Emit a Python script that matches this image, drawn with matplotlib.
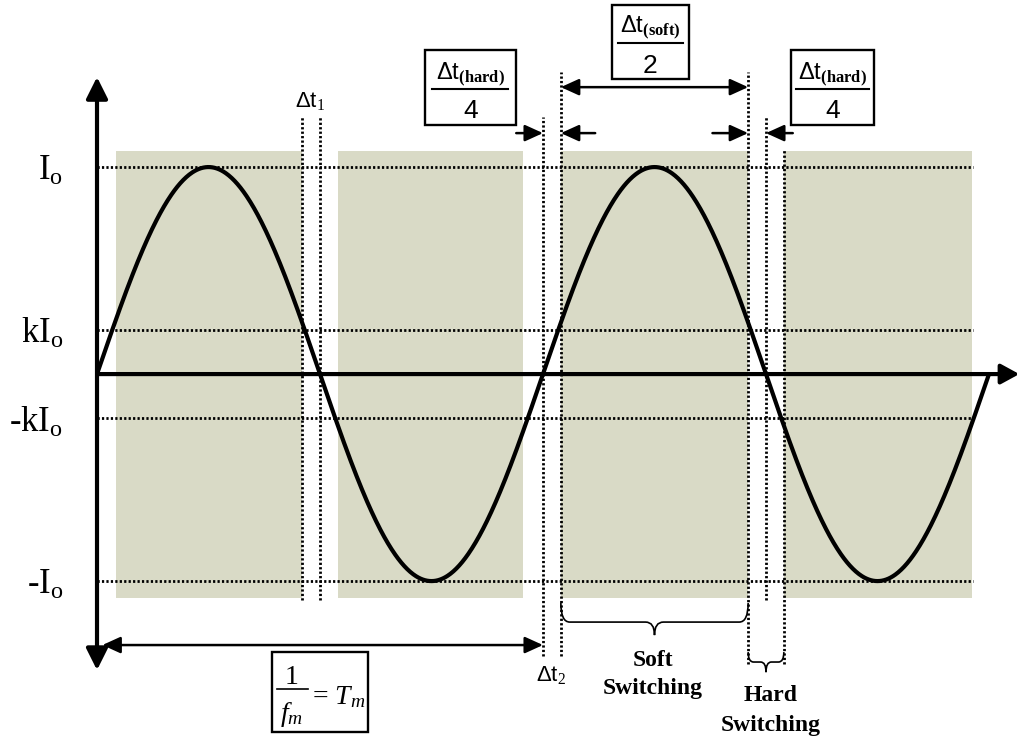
import numpy as np
import matplotlib
matplotlib.use("Agg")
import matplotlib.pyplot as plt
from matplotlib.patches import Rectangle, PathPatch
from matplotlib.path import Path

plt.rcParams['font.family'] = ['Liberation Serif', 'DejaVu Serif']
plt.rcParams['mathtext.fontset'] = 'custom'
plt.rcParams['mathtext.rm'] = 'Liberation Serif'
plt.rcParams['mathtext.it'] = 'Liberation Serif:italic'
plt.rcParams['mathtext.bf'] = 'Liberation Serif:bold'
plt.rcParams['mathtext.sf'] = 'Liberation Sans'

# waveform, normalised: time in T_m, current in I_o
T_M = 1.0
I_O = 1.0
K = 0.213
N_CYCLES = 2

level_vals = [I_O, K * I_O, -K * I_O, -I_O]
level_labels = ['I$_\\mathrm{o}$', 'kI$_\\mathrm{o}$', '-kI$_\\mathrm{o}$', '-I$_\\mathrm{o}$']

# shaded windows (units of T_m)
shade_start = [0.043, 0.540, 1.040, 1.540]
shade_end = [0.460, 0.955, 1.460, 1.962]

# switching instants marked by dotted verticals
mark_t = [0.46, 0.50, 1.00, 1.04, 1.46, 1.50, 1.54]
mark_top = [1.24, 1.24, 1.24, 1.46, 1.46, 1.24, 1.08]
mark_bot = [-1.09, -1.09, -1.36, -1.36, -1.40, -1.09, -1.40]

SHADE = '#d9dac6'

fig = plt.figure(figsize=(10.22, 7.38), dpi=100)
ax = fig.add_axes([0, 0, 1, 1])
ax.set_xlim(-0.2175, 2.074)
ax.set_ylim(-1.758, 1.807)
ax.axis('off')


def arrow(x0, y0, x1, y1, lw, hl, hw, both=False):
    style = f"{'<|-|>' if both else '-|>'},head_length={hl},head_width={hw}"
    ax.annotate('', xy=(x1, y1), xytext=(x0, y0), zorder=5,
                arrowprops=dict(arrowstyle=style, lw=lw, color='black',
                                shrinkA=0, shrinkB=0, mutation_scale=1))


def brace(x0, x1, ytop, yh, ytip, rx, lw=1.2):
    xm = (x0 + x1) / 2
    verts = [(x0, ytop), (x0, yh), (x0 + rx, yh), (xm - rx, yh), (xm, yh), (xm, ytip),
             (xm, yh), (xm + rx, yh), (x1 - rx, yh), (x1, yh), (x1, ytop)]
    codes = [Path.MOVETO, Path.CURVE3, Path.CURVE3, Path.LINETO, Path.CURVE3, Path.CURVE3,
             Path.CURVE3, Path.CURVE3, Path.LINETO, Path.CURVE3, Path.CURVE3]
    ax.add_patch(PathPatch(Path(verts, codes), fill=False, lw=lw, color='black', zorder=4))


def frac_box(x0, x1, y0, y1, xc, top_txt, bot_txt, y_top, y_line, y_bot, half):
    ax.add_patch(Rectangle((x0, y0), x1 - x0, y1 - y0, fill=False, lw=1.7,
                           edgecolor='black', zorder=5))
    ax.text(xc, y_top, top_txt, ha='center', va='baseline', fontsize=17,
            family=['Liberation Sans', 'DejaVu Sans'], zorder=6)
    ax.plot([xc - half, xc + half], [y_line, y_line], color='black', lw=1.5, zorder=6)
    ax.text(xc, y_bot, bot_txt, ha='center', va='baseline', fontsize=19,
            family=['Liberation Sans', 'DejaVu Sans'], zorder=6)


# shaded windows
for s, e in zip(shade_start, shade_end):
    ax.axvspan(s, e, ymin=(-1.082 + 1.758) / 3.565, ymax=(1.077 + 1.758) / 3.565,
               color=SHADE, lw=0, zorder=1)

# dotted level lines and vertical markers
dots = dict(color='black', lw=2.0, linestyle=(0, (0.8, 0.8)), zorder=2)
ax.hlines(level_vals, 0, shade_end[-1] + 0.003, **dots)
for t, y0, y1 in zip(mark_t, mark_bot, mark_top):
    ax.vlines(t, y0, y1, **dots)

# sinusoid i(t) = I_o sin(2 pi t / T_m)
t = np.linspace(0, N_CYCLES * T_M, 1200)
ax.plot(t, I_O * np.sin(2 * np.pi * t / T_M), color='black', lw=3.0,
        solid_capstyle='round', zorder=3)

# axes
arrow(0, -1.43, 0, 1.435, lw=3.0, hl=13, hw=6.5, both=True)
arrow(0, 0, 2.068, 0, lw=3.0, hl=11, hw=6.0)

# level labels
for v, lab in zip(level_vals, level_labels):
    ax.text(-0.076, v - 0.064, lab, ha='right', va='baseline', fontsize=25)

# period arrow and box
arrow(0.012, -1.309, 1.0, -1.309, lw=1.8, hl=11, hw=5, both=True)
ax.add_patch(Rectangle((0.392, -1.729), 0.216, 0.386, fill=False, lw=1.7,
                       edgecolor='black', zorder=5))
ax.text(0.437, -1.497, '1', ha='center', va='baseline', fontsize=20)
ax.plot([0.404, 0.473], [-1.522, -1.522], color='black', lw=1.2)
ax.text(0.437, -1.675, '$\\mathit{f}_\\mathit{m}$', ha='center', va='baseline', fontsize=20)
ax.text(0.482, -1.592, '= $\\mathit{T}_\\mathit{m}$', ha='left', va='baseline', fontsize=20)

# delta t labels
sans = ['Liberation Sans', 'DejaVu Sans']
ax.text(0.478, 1.29, 'Δt$_\\mathrm{1}$', ha='center', va='baseline', fontsize=16, family=sans)
ax.text(1.018, -1.482, 'Δt$_\\mathrm{2}$', ha='center', va='baseline', fontsize=16, family=sans)

# fraction boxes at the top
hard_txt = 'Δt$_\\mathbf{(hard)}$'
frac_box(0.735, 0.939, 1.203, 1.565, 0.837, hard_txt, '4', 1.42, 1.377, 1.236, 0.085)
frac_box(1.556, 1.742, 1.203, 1.565, 1.649, hard_txt, '4', 1.42, 1.377, 1.236, 0.082)
frac_box(1.155, 1.327, 1.425, 1.783, 1.241, 'Δt$_\\mathbf{(soft)}$', '2', 1.647, 1.599, 1.453, 0.072)

# soft span arrow and small pointer arrows
arrow(1.04, 1.386, 1.46, 1.386, lw=1.8, hl=11, hw=5, both=True)
arrow(0.94, 1.164, 1.0, 1.164, lw=1.8, hl=11, hw=5)
arrow(1.117, 1.164, 1.04, 1.164, lw=1.8, hl=11, hw=5)
arrow(1.38, 1.164, 1.46, 1.164, lw=1.8, hl=11, hw=5)
arrow(1.56, 1.164, 1.50, 1.164, lw=1.8, hl=11, hw=5)

# braces and switching captions
brace(1.04, 1.46, -1.106, -1.198, -1.261, 0.02)
brace(1.46, 1.54, -1.343, -1.391, -1.44, 0.012)
cap = dict(ha='center', va='baseline', fontsize=17, fontweight='bold')
ax.text(1.247, -1.41, 'Soft', **cap)
ax.text(1.247, -1.545, 'Switching', **cap)
ax.text(1.511, -1.58, 'Hard', **cap)
ax.text(1.511, -1.725, 'Switching', **cap)

fig.savefig('out.png', dpi=100)
